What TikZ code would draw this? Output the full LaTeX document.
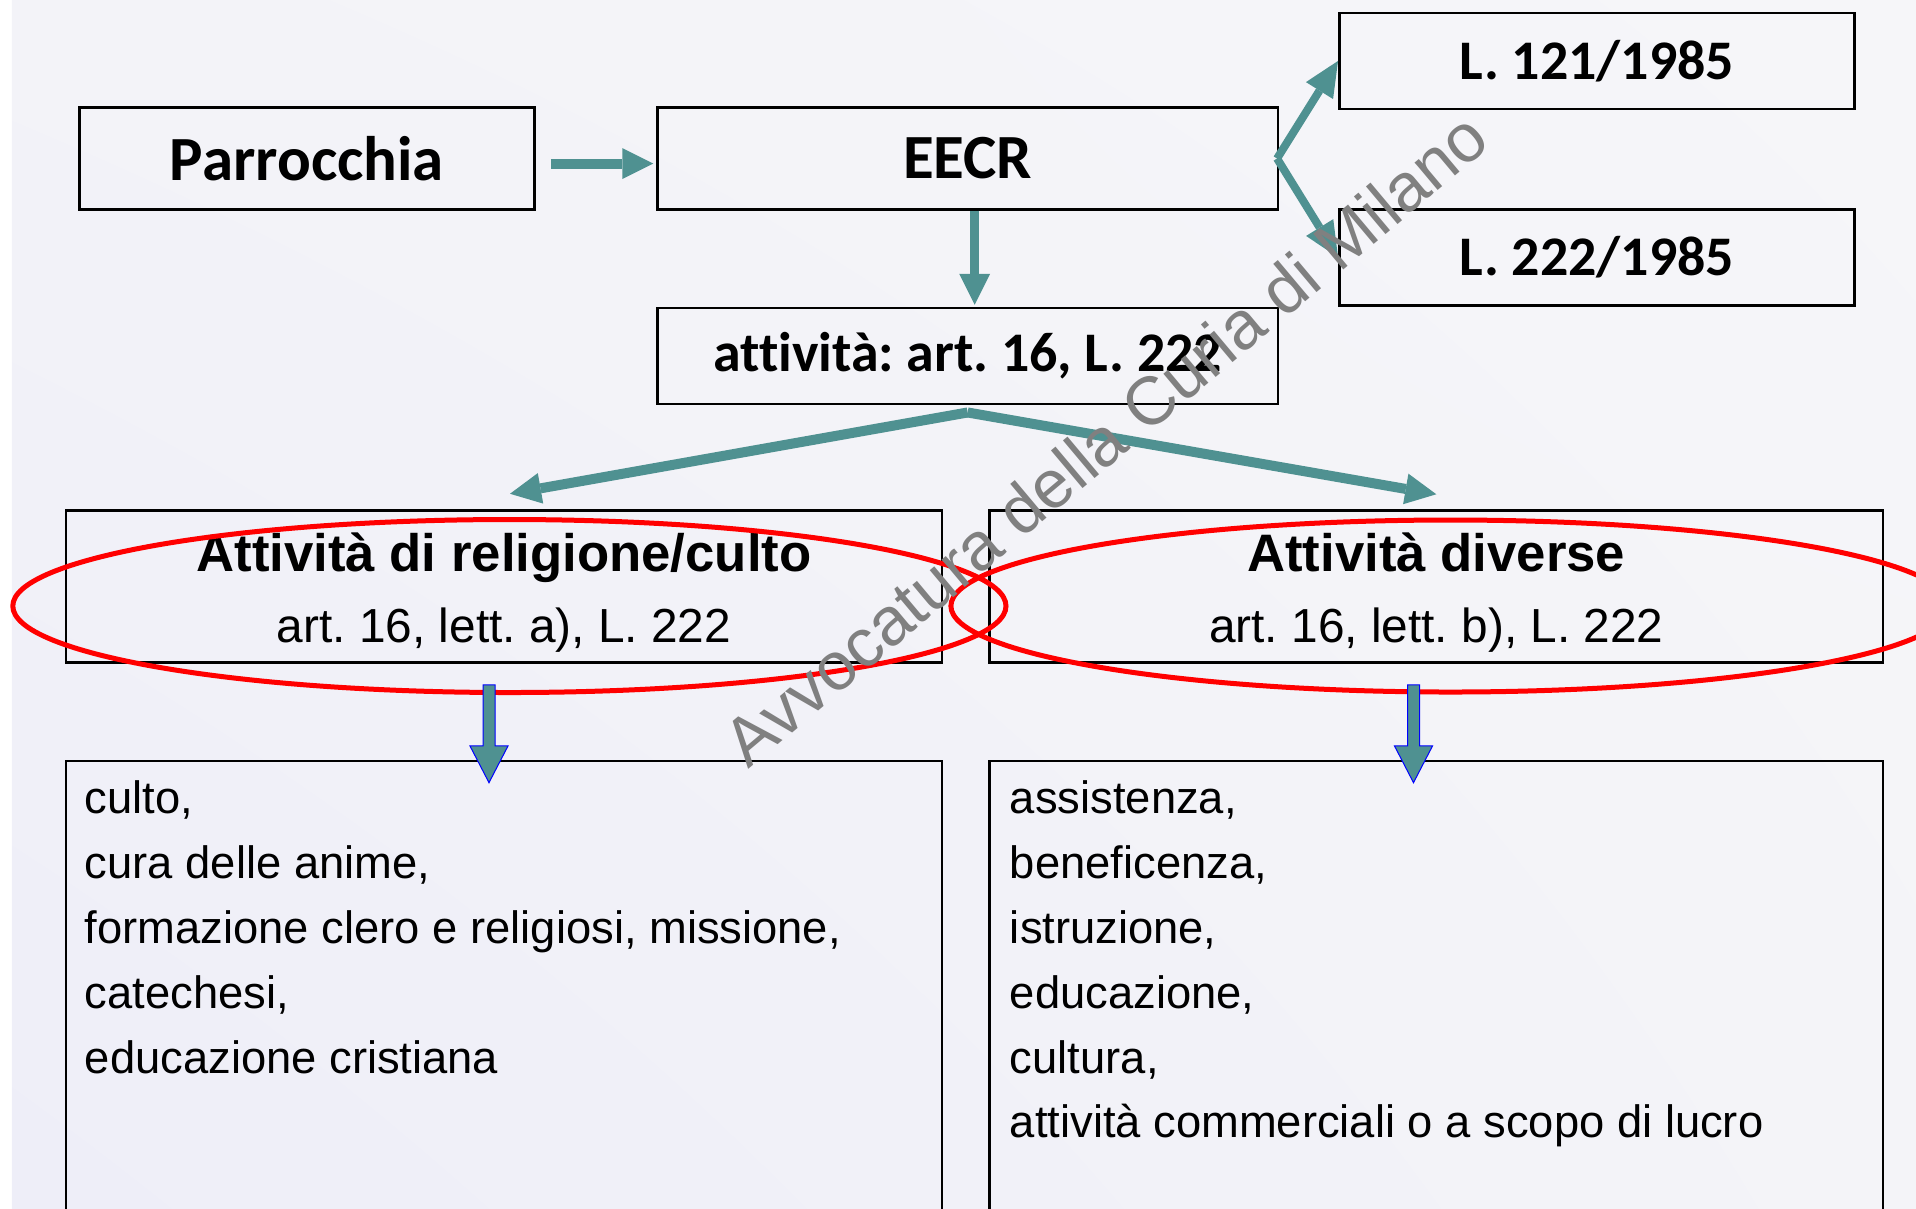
\documentclass[tikz,border=0pt]{standalone}
\usepackage{fontspec}
\setmainfont{Liberation Sans}
\newfontfamily\calibri[Ligatures=NoCommon]{Carlito}
\usetikzlibrary{positioning,arrows.meta,calc,shadings}
\definecolor{freccia}{RGB}{79,145,145}
\definecolor{filigrana}{RGB}{128,128,128}
\definecolor{sfondoNO}{RGB}{243,243,248}
\definecolor{sfondoNE}{RGB}{246,246,249}
\definecolor{sfondoSO}{RGB}{238,238,248}
\definecolor{sfondoSE}{RGB}{244,244,248}
\frenchspacing
\tikzset{
>={Triangle[length=3.1mm,width=3.1mm,line width=0pt]},
  casella/.style={
    rectangle,
    draw=black, line width=0.25mm,
    text centered,
    inner sep=0pt},
  titolo/.style={
    casella,
    font=\calibri\bfseries\fontsize{17.9}{21}\selectfont,
    minimum height=10.16mm},
  legge/.style={
    casella,
    font=\calibri\bfseries\fontsize{15.9}{19}\selectfont,
    minimum width=51.5mm,
    minimum height=9.6mm},
  attivita/.style={
    casella,
    align=center,
    font=\fontsize{13.6}{20.1}\selectfont,
    minimum height=15.2mm},
  elenco/.style={casella, minimum height=50mm},
  voci/.style={
    align=left, inner sep=0pt, anchor=north west,
    font=\fontsize{12.9}{18.43}\selectfont},
  freccia/.style={draw=freccia, line width=1mm, ->},
  ramo/.style={draw=freccia, line width=0.8mm,
    -{Triangle[length=3.5mm,width=3.2mm,line width=0pt]}},
  blocco/.style={fill=freccia, draw=blue, line width=0.1mm},
  cerchio/.style={draw=red, line width=0.5mm},
}

\begin{document}
\begin{tikzpicture}[node distance=1cm]
  \useasboundingbox (0,0) rectangle (19.16,-12.08);
  \clip (0,0) rectangle (19.16,-12.08);
  \shade[upper left=sfondoNO, upper right=sfondoNE, lower left=sfondoSO, lower right=sfondoSE]
    (0.12,0) rectangle (19.16,-12.08);

  % boxes
  \node[titolo, minimum width=45.5mm] (parr) at (3.07,-1.585) {Parrocchia};
  \node[titolo, minimum width=62.03mm, right=1.205cm of parr] (eecr) {EECR};
  \node[legge, above right=-0.037cm and 0.59cm of eecr] (l121) {L. 121/1985};
  \node[legge, below right=-0.025cm and 0.59cm of eecr] (l222) {L. 222/1985};
  \node[legge, minimum width=62.03mm, minimum height=9.62mm, below=0.962cm of eecr] (att) {attività: art. 16, L. 222};

  \node[attivita, minimum width=87.6mm] (relig) at (5.04,-5.867)
    {{\bfseries\fontsize{15}{20.1}\selectfont\rule{0pt}{5.1mm}Attività di religione/culto}\\art. 16, lett. a), L. 222};
  \node[attivita, minimum width=89.36mm, right=0.45cm of relig] (diverse)
    {{\bfseries\fontsize{15}{20.1}\selectfont\rule{0pt}{5.1mm}Attività diverse}\\art. 16, lett. b), L. 222};

  \node[elenco, minimum width=87.6mm, below=0.956cm of relig] (culto) {};
  \node[elenco, minimum width=89.36mm, below=0.956cm of diverse] (servizi) {};
  \node[voci] (culto-voci) at ([xshift=1.95mm,yshift=-2.08mm]culto.north west)
    {culto,\\cura delle anime,\\formazione clero e religiosi, missione,\\catechesi,\\educazione cristiana};
  \node[voci] (servizi-voci) at ([xshift=2.1mm,yshift=-2.08mm]servizi.north west)
    {assistenza,\\beneficenza,\\istruzione,\\educazione,\\cultura,\\attività commerciali o a scopo di lucro};

  % red rings
  \draw[cerchio] ([shift={(0.054,-0.193)}]relig.center) ellipse [x radius=4.966, y radius=0.865];
  \draw[cerchio] ([shift={(0.142,-0.193)}]diverse.center) ellipse [x radius=4.996, y radius=0.86];

  % arrows
  \draw[freccia] ([xshift=1.5mm,yshift=-0.5mm]parr.east) -- ([xshift=-0.3mm,yshift=-0.5mm]eecr.west);
  \draw[freccia, line width=0.94mm] ([xshift=0.7mm]eecr.south) -- ([xshift=0.7mm,yshift=0.2mm]att.north);
  \draw[ramo] ([xshift=-0.2mm]eecr.east) -- (l121.west);
  \draw[ramo] ([xshift=-0.2mm]eecr.east) -- (l222.west);
  \draw[freccia] ([yshift=-0.7mm]att.south) -- ([shift={(0.06,0.157)}]relig.north);
  \draw[freccia] ([yshift=-0.7mm]att.south) -- ([yshift=1.52mm]diverse.north);

  \draw[blocco] ([shift={(-0.21,-0.21)}]relig.south) -- ++(0.12,0) -- ++(0,-0.61) -- ++(0.13,0)
    -- ++(-0.19,-0.367) -- ++(-0.19,0.367) -- ++(0.13,0) -- cycle;
  \draw[blocco] ([shift={(-0.288,-0.21)}]diverse.south) -- ++(0.12,0) -- ++(0,-0.61) -- ++(0.13,0)
    -- ++(-0.19,-0.367) -- ++(-0.19,0.367) -- ++(0.13,0) -- cycle;

  % watermark
  \node[rotate=40, text=filigrana, font=\fontsize{19.3}{23}\selectfont] (timbro) at (11.05,-4.385)
    {Avvocatura della Curia di Milano};
\end{tikzpicture}
\end{document}
